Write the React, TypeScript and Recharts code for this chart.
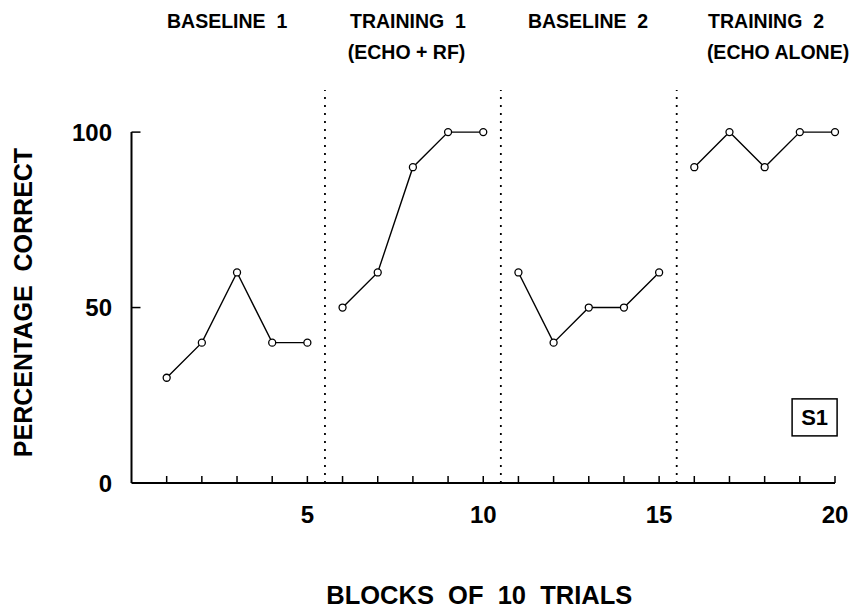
import React from 'react';
import { LineChart, Line, XAxis, YAxis, ReferenceLine, ReferenceDot } from 'recharts';

const blocks = [1, 2, 3, 4, 5, 6, 7, 8, 9, 10, 11, 12, 13, 14, 15, 16, 17, 18, 19, 20];
const baseline1 = [30, 40, 60, 40, 40];
const training1 = [50, 60, 90, 100, 100];
const baseline2 = [60, 40, 50, 50, 60];
const training2 = [90, 100, 90, 100, 100];

const xTicks = blocks;
const xLabels = [5, 10, 15, 20];
const yTicks = [0, 50, 100];
const phaseBreaks = [5.5, 10.5, 15.5];

const phaseTitles = ['BASELINE  1', 'TRAINING  1', 'BASELINE  2', 'TRAINING  2'];
const phaseTitleX = [2.72, 7.86, 12.98, 18.04];
const phaseNotes = ['(ECHO + RF)', '(ECHO ALONE)'];
const phaseNoteX = [7.82, 18.38];

const FONT = '"Liberation Sans", Arial, sans-serif';

const series = [baseline1, training1, baseline2, training2];
const keys = ['b1', 't1', 'b2', 't2'];

const data = blocks.map((block, i) => {
  const row: any = { block };
  keys.forEach((k, s) => {
    const idx = i - s * 5;
    row[k] = idx >= 0 && idx < 5 ? series[s][idx] : null;
  });
  return row;
});

const XTick = ({ x, y, payload }: any) => (
  <g>
    <line x1={x} y1={y} x2={x} y2={y - 7} stroke="#000" strokeWidth={1.5} />
    {xLabels.includes(payload.value) && (
      <text x={x} y={y + 40} textAnchor="middle" fontFamily={FONT} fontWeight="bold" fontSize={24} fill="#000">
        {payload.value}
      </text>
    )}
  </g>
);

const YTick = ({ x, y, payload }: any) => (
  <g>
    {payload.value > 0 && <line x1={x} y1={y} x2={x + 9} y2={y} stroke="#000" strokeWidth={1.5} />}
    <text x={x - 19.5} y={y + 8.5} textAnchor="end" fontFamily={FONT} fontWeight="bold" fontSize={24} fill="#000">
      {payload.value}
    </text>
  </g>
);

const yLabel = ({ viewBox }: any) => {
  const x = viewBox.x - 8.5;
  const y = viewBox.y + viewBox.height / 2 + 16;
  return (
    <text
      x={x}
      y={y}
      transform={`rotate(-90 ${x} ${y})`}
      textAnchor="middle"
      dominantBaseline="central"
      fontFamily={FONT}
      fontWeight="bold"
      fontSize={25}
      fill="#000"
      style={{ whiteSpace: 'pre' }}
    >
      PERCENTAGE  CORRECT
    </text>
  );
};

const xLabel = ({ viewBox }: any) => (
  <text
    x={viewBox.x + viewBox.width / 2 - 4}
    y={viewBox.y + 112}
    textAnchor="middle"
    dominantBaseline="central"
    fontFamily={FONT}
    fontWeight="bold"
    fontSize={25.5}
    fill="#000"
    style={{ whiteSpace: 'pre' }}
  >
    BLOCKS  OF  10  TRIALS
  </text>
);

const phaseText = (text: string, dy: number, size: number) => ({ viewBox }: any) => (
  <text
    x={viewBox.x + viewBox.width / 2}
    y={viewBox.y + viewBox.height / 2 + dy}
    textAnchor="middle"
    dominantBaseline="central"
    fontFamily={FONT}
    fontWeight="bold"
    fontSize={size}
    fill="#000"
    style={{ whiteSpace: 'pre' }}
  >
    {text}
  </text>
);

const subjectBox = ({ viewBox }: any) => {
  const cx = viewBox.x + viewBox.width / 2;
  const cy = viewBox.y + viewBox.height / 2;
  return (
    <g>
      <rect x={cx - 22.5} y={cy - 18.5} width={45} height={37} fill="#fff" stroke="#000" strokeWidth={1.5} />
      <text x={cx} y={cy} textAnchor="middle" dominantBaseline="central" fontFamily={FONT} fontWeight="bold" fontSize={22} fill="#000">
        S1
      </text>
    </g>
  );
};

export default function App() {
  return (
    <div style={{ position: 'absolute', left: 0, top: 0, width: 856, height: 608, background: '#fff', fontFamily: FONT }}>
      <LineChart width={856} height={608} data={data} margin={{ top: 90, right: 21, bottom: 5, left: 31.5 }}>
        <XAxis
          dataKey="block"
          type="number"
          domain={[0, 20]}
          ticks={xTicks}
          interval={0}
          tick={<XTick />}
          tickLine={false}
          tickSize={0}
          tickMargin={0}
          axisLine={{ stroke: '#000', strokeWidth: 2 }}
          height={120}
          label={xLabel}
        />
        <YAxis
          type="number"
          domain={[0, 112]}
          ticks={yTicks}
          interval={0}
          tick={<YTick />}
          tickLine={false}
          tickSize={0}
          tickMargin={0}
          axisLine={false}
          width={100}
          label={yLabel}
        />
        <ReferenceLine segment={[{ x: 0, y: 0 }, { x: 0, y: 100 }]} stroke="#000" strokeWidth={2} />
        {phaseBreaks.map((b) => (
          <ReferenceLine key={b} x={b} stroke="#000" strokeWidth={1.8} strokeDasharray="2 6" />
        ))}
        {phaseTitles.map((t, i) => (
          <ReferenceDot key={t} x={phaseTitleX[i]} y={100} r={0} fill="none" stroke="none" label={phaseText(t, -111, 19.5)} />
        ))}
        {phaseNotes.map((t, i) => (
          <ReferenceDot key={t} x={phaseNoteX[i]} y={100} r={0} fill="none" stroke="none" label={phaseText(t, -80, 19.5)} />
        ))}
        <ReferenceDot x={19.42} y={18.7} r={0} fill="none" stroke="none" label={subjectBox} />
        {keys.map((k) => (
          <Line
            key={k}
            type="linear"
            dataKey={k}
            stroke="#000"
            strokeWidth={1.4}
            dot={{ r: 3.5, fill: '#fff', stroke: '#000', strokeWidth: 1.3 }}
            activeDot={false}
            connectNulls={false}
            isAnimationActive={false}
          />
        ))}
      </LineChart>
    </div>
  );
}
